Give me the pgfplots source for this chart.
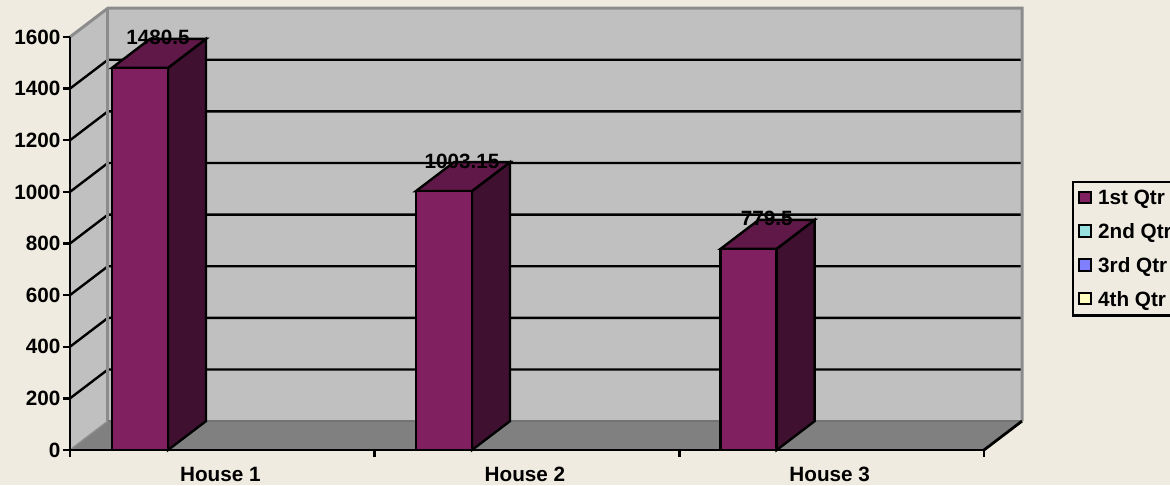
\documentclass[border=0pt]{standalone}
\usepackage{pgfplots}
\pgfplotsset{compat=1.18}
\usepackage{fontspec}
\setmainfont{Liberation Sans}
\definecolor{bg}{HTML}{F0EBE0}
\definecolor{wall}{HTML}{C0C0C0}
\definecolor{floorc}{HTML}{808080}
\definecolor{frame}{HTML}{8C8C8C}
\definecolor{front}{HTML}{802060}
\definecolor{topf}{HTML}{601848}
\definecolor{sidef}{HTML}{401030}
\definecolor{qtwo}{HTML}{99E0E0}
\definecolor{qthree}{HTML}{8080FF}
\definecolor{qfour}{HTML}{FFFFC0}
\newcommand{\chartfont}{\fontsize{20.7}{22}\selectfont\bfseries}
\begin{document}
\begin{tikzpicture}
\fill[bg] (-70pt,-35pt) rectangle (1100pt,450pt);
\useasboundingbox (-70pt,-35pt) rectangle (1100pt,450pt);
\begin{axis}[
  at={(0pt,0pt)}, anchor=south west,
  scale only axis, width=914pt, height=413pt,
  xmin=0, xmax=3, ymin=0, ymax=1600,
  clip=false, axis on top,
  axis x line=bottom, axis y line=left,
  axis line style={-, black, line width=2.4pt},
  xtick={0.5,1.5,2.5}, xticklabels={House 1,House 2,House 3},
  minor xtick={0,1,2,3},
  major x tick style={draw=none},
  minor x tick style={black, line width=2.4pt},
  tick align=outside, major tick length=7pt, minor tick length=7pt,
  ytick={0,200,...,1600},
  y tick style={black, line width=2.4pt},
  tick label style={font=\chartfont},
  y tick label style={/pgf/number format/assume math mode=true, /pgf/number format/1000 sep={}, xshift=1pt},
  x tick label style={yshift=-7pt, xshift=-2pt},
  legend style={at={(1002pt,269pt)}, anchor=north west, draw=black, line width=2.4pt, fill=bg,
    font=\chartfont, row sep=13.3pt, inner xsep=5pt, inner ysep=6pt, legend cell align=left},
  legend image code/.code={\draw[#1, line width=2pt, draw=black] (1pt,-5pt) rectangle (12.5pt,6.5pt); \path[draw=none, fill=none] (0pt,0pt) rectangle (18pt,1pt);},
]
% walls and floor
\addplot[forget plot, fill=wall, draw=none] coordinates {(0.1247,112) (3.1247,112) (3.1247,1712) (0.1247,1712)} -- cycle;
\addplot[forget plot, fill=wall, draw=none] coordinates {(0,0) (0.1247,112) (0.1247,1712) (0,1600)} -- cycle;
\addplot[forget plot, fill=floorc, draw=none] coordinates {(0,0) (3,0) (3.1247,112) (0.1247,112)} -- cycle;
% grid lines, along the side wall then the back wall
\addplot[forget plot, black, line width=2.4pt] coordinates {(0,200) (0.1247,312) (3.1247,312)};
\addplot[forget plot, black, line width=2.4pt] coordinates {(0,400) (0.1247,512) (3.1247,512)};
\addplot[forget plot, black, line width=2.4pt] coordinates {(0,600) (0.1247,712) (3.1247,712)};
\addplot[forget plot, black, line width=2.4pt] coordinates {(0,800) (0.1247,912) (3.1247,912)};
\addplot[forget plot, black, line width=2.4pt] coordinates {(0,1000) (0.1247,1112) (3.1247,1112)};
\addplot[forget plot, black, line width=2.4pt] coordinates {(0,1200) (0.1247,1312) (3.1247,1312)};
\addplot[forget plot, black, line width=2.4pt] coordinates {(0,1400) (0.1247,1512) (3.1247,1512)};
% wall frame
\addplot[forget plot, frame, line width=3pt] coordinates {(0,1600) (0.1247,1712) (3.1247,1712) (3.1247,112)};
\addplot[forget plot, frame, line width=3pt] coordinates {(0.1247,1712) (0.1247,112)};
\addplot[forget plot, black!55, line width=1.5pt] coordinates {(0.1247,112) (3.1247,112)};
\addplot[forget plot, frame, line width=1.5pt] coordinates {(0,0) (0.1247,112)};
\addplot[forget plot, black, line width=2.8pt] coordinates {(3,0) (3.1247,112)};
% bar sides
\addplot[forget plot, fill=sidef, draw=black, line width=2.4pt] coordinates {(0.3217,0) (0.4464,112) (0.4464,1592.5) (0.3217,1480.5)} -- cycle;
\addplot[forget plot, fill=topf, draw=black, line width=2.4pt] coordinates {(0.1379,1480.5) (0.3217,1480.5) (0.4464,1592.5) (0.2626,1592.5)} -- cycle;
\addplot[forget plot, fill=sidef, draw=black, line width=2.4pt] coordinates {(1.3195,0) (1.4442,112) (1.4442,1115.15) (1.3195,1003.15)} -- cycle;
\addplot[forget plot, fill=topf, draw=black, line width=2.4pt] coordinates {(1.1357,1003.15) (1.3195,1003.15) (1.4442,1115.15) (1.2604,1115.15)} -- cycle;
\addplot[forget plot, fill=sidef, draw=black, line width=2.4pt] coordinates {(2.3195,0) (2.4442,112) (2.4442,891.5) (2.3195,779.5)} -- cycle;
\addplot[forget plot, fill=topf, draw=black, line width=2.4pt] coordinates {(2.1357,779.5) (2.3195,779.5) (2.4442,891.5) (2.2604,891.5)} -- cycle;
% 1st Qtr
\addplot[ybar, bar width=56pt, bar shift=0pt, fill=front, draw=black, line width=2.4pt,
  nodes near coords, point meta=y,
  nodes near coords style={anchor=center, xshift=18pt, yshift=30pt, font=\chartfont, text=black,
    /pgf/number format/assume math mode=true, /pgf/number format/1000 sep={}, /pgf/number format/precision=2}]
  coordinates {(0.2298,1480.5) (1.2276,1003.15) (2.2276,779.5)};
\addlegendentry{1st Qtr}
\addlegendimage{fill=qtwo}
\addlegendentry{2nd Qtr}
\addlegendimage{fill=qthree}
\addlegendentry{3rd Qtr}
\addlegendimage{fill=qfour}
\addlegendentry{4th Qtr}
\end{axis}
\end{tikzpicture}
\end{document}
